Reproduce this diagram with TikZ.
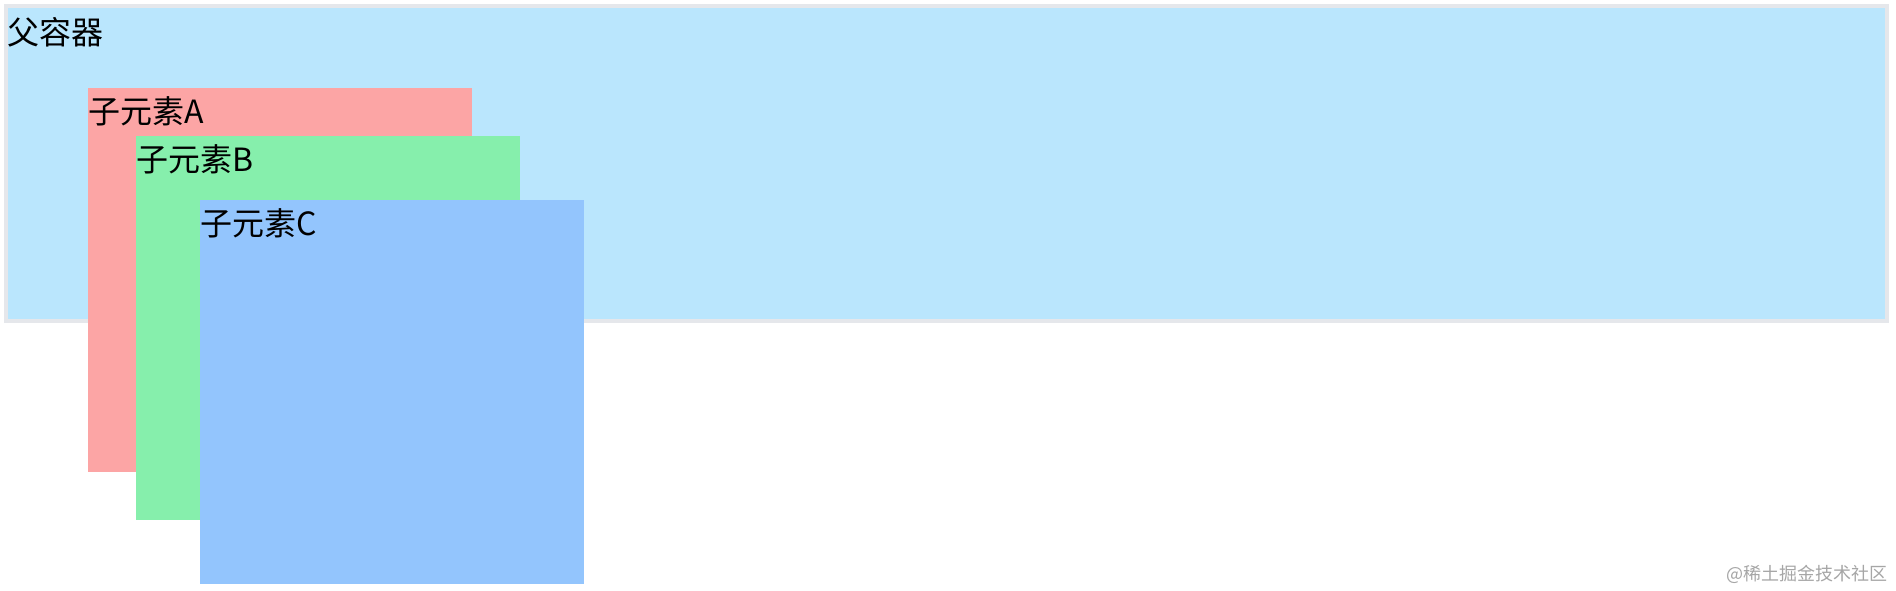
\documentclass[tikz,border=0pt]{standalone}
\usepackage{fontspec}
\newfontfamily\cjk{Noto Sans CJK SC}
\usepackage{tikz}
\definecolor{parentfill}{HTML}{BAE6FD}
\definecolor{parentborder}{HTML}{E5E7EB}
\definecolor{childA}{HTML}{FCA5A5}
\definecolor{childB}{HTML}{86EFAC}
\definecolor{childC}{HTML}{93C5FD}
\definecolor{markgray}{HTML}{A6A6A6}

\begin{document}
\begin{tikzpicture}[x=1pt, y=-1pt,
    childbox/.style={anchor=north west, inner sep=0pt, outer sep=0pt, minimum width=384pt, minimum height=384pt},
    boxlabel/.style={anchor=base west, inner sep=0pt, font=\cjk\fontsize{32}{38}\selectfont}]
    \useasboundingbox (0, 0) rectangle (1896, 590);
    \fill[white] (0, 0) rectangle (1896, 590);

    \draw[parentborder, line width=4pt, fill=parentfill] (6, 6) rectangle (1887, 321);
    \node[boxlabel] (parentlabel) at (7, 44) {父容器};

    \node[childbox, fill=childA] (boxA) at (88, 88) {};
    \node[boxlabel] (labelA) at ([yshift=-35.5pt]boxA.north west) {子元素A};
    \node[childbox, fill=childB] (boxB) at (136, 136) {};
    \node[boxlabel] (labelB) at ([yshift=-35.5pt]boxB.north west) {子元素B};
    \node[childbox, fill=childC] (boxC) at (200, 200) {};
    \node[boxlabel] (labelC) at ([yshift=-35.5pt]boxC.north west) {子元素C};

    \node[anchor=base east, inner sep=0pt, markgray, font=\cjk\fontsize{18}{22}\selectfont] (watermark) at (1888, 580) {@稀土掘金技术社区};
  \end{tikzpicture}
\end{document}
